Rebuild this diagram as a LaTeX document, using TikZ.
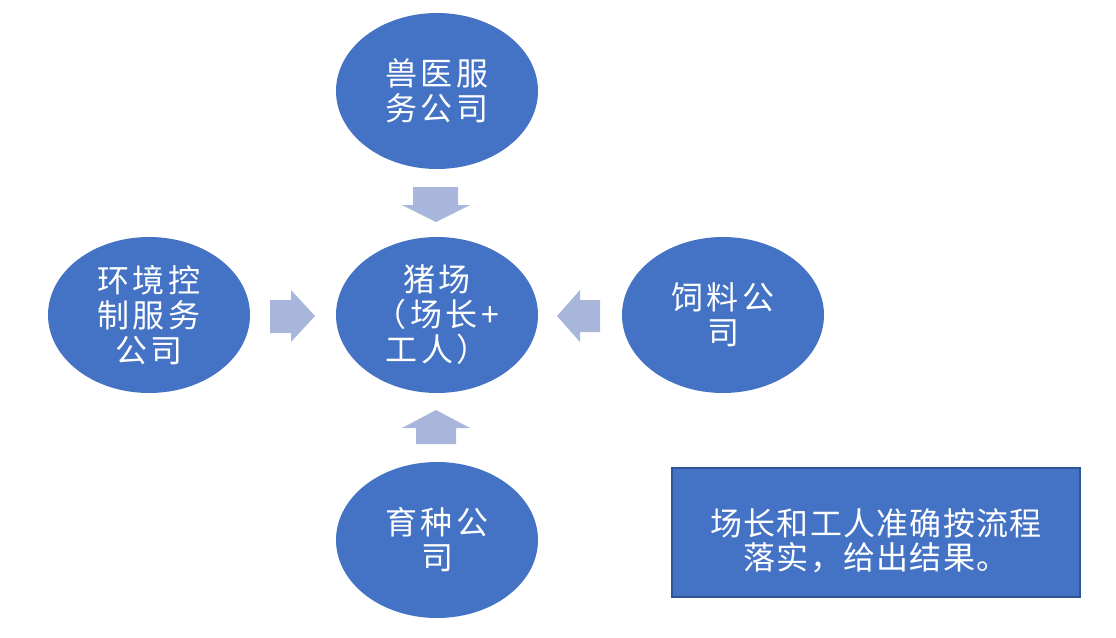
\documentclass[tikz,border=0pt]{standalone}
\usepackage{fontspec}
\setmainfont{Noto Sans CJK SC}
\usetikzlibrary{shapes.geometric}
\definecolor{ellblue}{HTML}{4472C4}
\definecolor{arrblue}{HTML}{A8B6DC}
\definecolor{boxedge}{HTML}{2F5597}
\tikzset{
  blob/.style={ellipse, fill=ellblue, draw=none, minimum width=202pt, minimum height=156pt,
    inner sep=0pt, align=center, text=white, font=\fontsize{32}{35}\selectfont\addfontfeature{LetterSpace=11}},
  blockarrow/.style={fill=arrblue, draw=none},
  notebox/.style={rectangle, fill=ellblue, draw=boxedge, line width=2pt, minimum width=408pt,
    minimum height=129pt, inner sep=0pt, text height=40pt, text depth=34pt, text=white,
    font=\fontsize{32}{34}\selectfont\addfontfeature{LetterSpace=4}}
}
\begin{document}
\begin{tikzpicture}[x=1pt,y=-1pt]
\useasboundingbox (0,0) rectangle (1116,637);
\node[blob] (vet) at (437,91) {兽医服\\务公司};
\node[blob] (farm) at (437,315) {猪场\\（场长+\\工人）};
\node[blob] (env) at (149,315) {环境控\\制服务\\公司};
\node[blob] (feed) at (723,315) {饲料公\\司};
\node[blob] (breed) at (437,540) {育种公\\司};
\node[notebox] (note) at (876,532) {\parbox[t]{400pt}{\centering 场长和工人准确按流程\\落实，给出结果。}};
% block arrows
\fill[blockarrow] (413,187) -- (458,187) -- (458,205) -- (470,205) -- (436,222) -- (402,205) -- (413,205) -- cycle;
\fill[blockarrow] (416,444) -- (456,444) -- (456,428) -- (470,428) -- (436,410) -- (402,428) -- (416,428) -- cycle;
\fill[blockarrow] (270,300) -- (291,300) -- (291,290) -- (315,316) -- (291,342) -- (291,333) -- (270,333) -- cycle;
\fill[blockarrow] (600,300) -- (580,300) -- (580,290) -- (557,316) -- (580,342) -- (580,332) -- (600,332) -- cycle;
\end{tikzpicture}
\end{document}
